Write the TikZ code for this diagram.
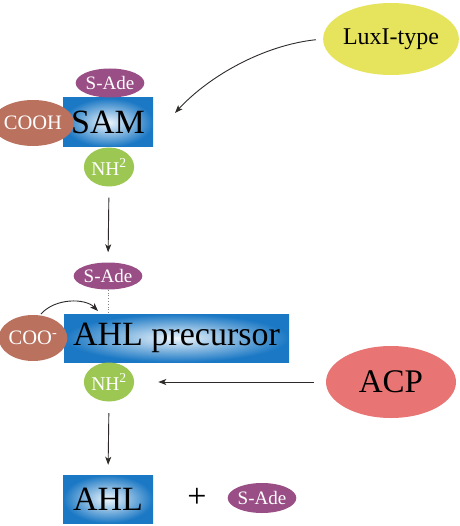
\documentclass[tikz,border=0pt]{standalone}
\usepackage{fontspec}
\setmainfont{Liberation Serif}
\usetikzlibrary{shapes.geometric,arrows.meta}
\definecolor{boxblue}{HTML}{1B78C4}
\definecolor{glow}{HTML}{EEF6FC}
\definecolor{sade}{HTML}{9A4E86}
\definecolor{cooh}{HTML}{BA725F}
\definecolor{nhg}{HTML}{9CC752}
\definecolor{luxy}{HTML}{E6E35C}
\definecolor{acpr}{HTML}{E87474}
\definecolor{linec}{HTML}{2E2A2A}
\tikzset{
  molbox/.style={rectangle, inner sep=0pt, shade, inner color=glow, outer color=boxblue, draw=none},
  blob/.style={ellipse, inner sep=0pt, draw=none, text=white},
  sadeblob/.style={blob, fill=sade, minimum width=56, minimum height=29, font=\fontsize{19}{21}\selectfont},
  coohblob/.style={blob, fill=cooh, minimum width=60, minimum height=46, font=\fontsize{20.5}{22}\selectfont},
  nhblob/.style={blob, fill=nhg, minimum width=40, minimum height=39, font=\fontsize{19.5}{21}\selectfont},
  bigtext/.style={font=\fontsize{34}{36}\selectfont},
  arr/.style={draw=linec, line width=0.9pt, -{Stealth[length=8pt,width=6pt,inset=2pt]}},
}
\begin{document}
\begin{tikzpicture}[x=1pt,y=-1pt]
\useasboundingbox (0,0) rectangle (459,526);
% LuxI
\node[ellipse, inner sep=0pt, fill=luxy, minimum width=130, minimum height=72, font=\fontsize{24}{26}\selectfont] (lux) at (391,39) {LuxI-type};
% SAM group
\node[molbox, minimum width=90, minimum height=49, bigtext] (sam) at (108,122.5) {SAM};
\node[sadeblob] (sade1) at (110,83) {S-Ade};
\node[coohblob] (cooh) at (33,123) {COOH};
\node[nhblob] (nh1) at (109,167) {NH\textsuperscript{2}};
% AHL precursor group
\node[sadeblob, minimum width=58, minimum height=27] (sade2) at (108,276) {S-Ade};
\node[molbox, minimum width=225, minimum height=48, bigtext] (pre) at (176.5,338) {AHL precursor};
\node[coohblob] (coo) at (33,338) {COO\textsuperscript{-}};
\node[nhblob] (nh2) at (109,382) {NH\textsuperscript{2}};
% ACP
\node[ellipse, inner sep=0pt, fill=acpr, minimum width=130, minimum height=72, font=\fontsize{33}{35}\selectfont] (acp) at (391,382) {ACP};
% AHL product
\node[molbox, minimum width=90, minimum height=48, bigtext] (ahl) at (108,499) {AHL};
\node[bigtext] (plus) at (197,498) {+};
\node[sadeblob, minimum width=57, minimum height=30] (sade3) at (262,498) {S-Ade};
% connectors
\coordinate (luxend) at (175,113);
\draw[arr, shorten <=7pt] (lux.west) .. controls (265,45) and (210,75) .. (luxend);
\draw[arr, shorten <=11pt, shorten >=10pt] (nh1.south) -- (sade2.north);
\draw[draw=gray, line width=0.8pt, dotted] (sade2.south) -- (sade2.south |- pre.north);
\coordinate (coostart) at (41,314);
\coordinate (cooend) at (98,311);
\draw[arr] (coostart) .. controls (55,298) and (85,298) .. (cooend);
\draw[arr, shorten <=12pt, shorten >=24pt] (acp.west) -- (nh2.east);
\draw[arr, shorten <=11.5pt, shorten >=10pt] (nh2.south) -- (ahl.north);
\end{tikzpicture}
\end{document}
